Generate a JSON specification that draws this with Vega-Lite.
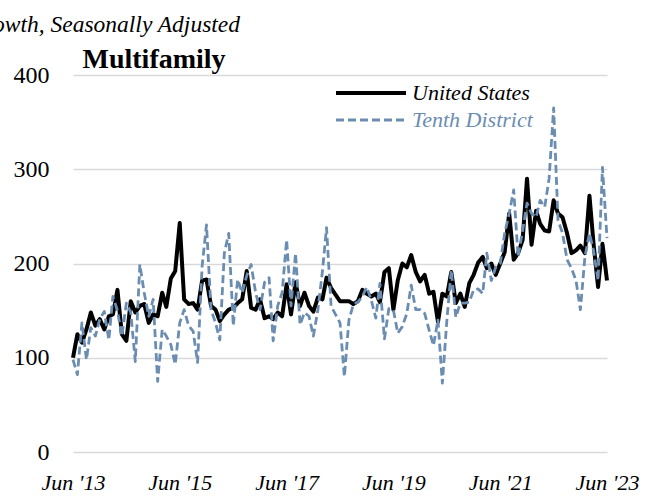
{
  "$schema": "https://vega.github.io/schema/vega-lite/v6.json",
  "width": 534,
  "height": 377,
  "autosize": {"type": "none"},
  "padding": {"left": 73, "top": 75, "right": 44, "bottom": 48},
  "background": "white",
  "title": {
    "text": "Growth, Seasonally Adjusted",
    "anchor": "start",
    "frame": "group",
    "align": "right",
    "dx": 167,
    "font": "Liberation Serif",
    "fontSize": 23.5,
    "fontStyle": "italic",
    "fontWeight": "normal",
    "color": "black",
    "offset": -10,
    "baseline": "alphabetic"
  },
  "data": {
    "values": [
      {"d":"2013-06","US":100,"TD":98},{"d":"2013-07","US":125,"TD":82},{"d":"2013-08","US":116,"TD":137},{"d":"2013-09","US":130,"TD":98},{"d":"2013-10","US":148,"TD":132},{"d":"2013-11","US":134,"TD":123},{"d":"2013-12","US":141,"TD":141},
      {"d":"2014-01","US":130,"TD":149},{"d":"2014-02","US":144,"TD":119},{"d":"2014-03","US":146,"TD":165},{"d":"2014-04","US":172,"TD":150},{"d":"2014-05","US":125,"TD":123},{"d":"2014-06","US":118,"TD":158},{"d":"2014-07","US":160,"TD":148},{"d":"2014-08","US":148,"TD":96},{"d":"2014-09","US":155,"TD":199},{"d":"2014-10","US":157,"TD":169},{"d":"2014-11","US":137,"TD":144},{"d":"2014-12","US":146,"TD":162},
      {"d":"2015-01","US":144,"TD":75},{"d":"2015-02","US":169,"TD":130},{"d":"2015-03","US":154,"TD":123},{"d":"2015-04","US":184,"TD":114},{"d":"2015-05","US":192,"TD":93},{"d":"2015-06","US":243,"TD":137},{"d":"2015-07","US":162,"TD":151},{"d":"2015-08","US":157,"TD":134},{"d":"2015-09","US":158,"TD":128},{"d":"2015-10","US":151,"TD":95},{"d":"2015-11","US":182,"TD":197},{"d":"2015-12","US":183,"TD":241},
      {"d":"2016-01","US":155,"TD":151},{"d":"2016-02","US":151,"TD":137},{"d":"2016-03","US":139,"TD":119},{"d":"2016-04","US":146,"TD":211},{"d":"2016-05","US":151,"TD":232},{"d":"2016-06","US":153,"TD":134},{"d":"2016-07","US":158,"TD":183},{"d":"2016-08","US":162,"TD":169},{"d":"2016-09","US":192,"TD":187},{"d":"2016-10","US":153,"TD":199},{"d":"2016-11","US":151,"TD":169},{"d":"2016-12","US":162,"TD":151},
      {"d":"2017-01","US":142,"TD":180},{"d":"2017-02","US":144,"TD":185},{"d":"2017-03","US":141,"TD":118},{"d":"2017-04","US":148,"TD":155},{"d":"2017-05","US":144,"TD":169},{"d":"2017-06","US":178,"TD":225},{"d":"2017-07","US":146,"TD":155},{"d":"2017-08","US":180,"TD":211},{"d":"2017-09","US":155,"TD":135},{"d":"2017-10","US":169,"TD":148},{"d":"2017-11","US":155,"TD":144},{"d":"2017-12","US":149,"TD":123},
      {"d":"2018-01","US":164,"TD":151},{"d":"2018-02","US":162,"TD":192},{"d":"2018-03","US":185,"TD":238},{"d":"2018-04","US":174,"TD":155},{"d":"2018-05","US":167,"TD":146},{"d":"2018-06","US":160,"TD":137},{"d":"2018-07","US":160,"TD":80},{"d":"2018-08","US":160,"TD":140},{"d":"2018-09","US":157,"TD":157},{"d":"2018-10","US":160,"TD":159},{"d":"2018-11","US":172,"TD":165},{"d":"2018-12","US":168,"TD":175},
      {"d":"2019-01","US":165,"TD":161},{"d":"2019-02","US":168,"TD":142},{"d":"2019-03","US":159,"TD":179},{"d":"2019-04","US":191,"TD":120},{"d":"2019-05","US":195,"TD":152},{"d":"2019-06","US":151,"TD":151},{"d":"2019-07","US":182,"TD":126},{"d":"2019-08","US":200,"TD":133},{"d":"2019-09","US":196,"TD":147},{"d":"2019-10","US":209,"TD":177},{"d":"2019-11","US":191,"TD":151},{"d":"2019-12","US":181,"TD":151},
      {"d":"2020-01","US":188,"TD":147},{"d":"2020-02","US":168,"TD":129},{"d":"2020-03","US":170,"TD":113},{"d":"2020-04","US":138,"TD":140},{"d":"2020-05","US":168,"TD":73},{"d":"2020-06","US":165,"TD":140},{"d":"2020-07","US":191,"TD":193},{"d":"2020-08","US":158,"TD":143},{"d":"2020-09","US":168,"TD":158},{"d":"2020-10","US":154,"TD":158},{"d":"2020-11","US":179,"TD":159},{"d":"2020-12","US":188,"TD":172},
      {"d":"2021-01","US":201,"TD":173},{"d":"2021-02","US":207,"TD":168},{"d":"2021-03","US":195,"TD":211},{"d":"2021-04","US":200,"TD":182},{"d":"2021-05","US":188,"TD":196},{"d":"2021-06","US":200,"TD":200},{"d":"2021-07","US":212,"TD":232},{"d":"2021-08","US":253,"TD":253},{"d":"2021-09","US":204,"TD":278},{"d":"2021-10","US":211,"TD":207},{"d":"2021-11","US":225,"TD":235},{"d":"2021-12","US":290,"TD":264},
      {"d":"2022-01","US":220,"TD":253},{"d":"2022-02","US":256,"TD":249},{"d":"2022-03","US":242,"TD":267},{"d":"2022-04","US":235,"TD":260},{"d":"2022-05","US":234,"TD":290},{"d":"2022-06","US":267,"TD":365},{"d":"2022-07","US":253,"TD":246},{"d":"2022-08","US":249,"TD":232},{"d":"2022-09","US":232,"TD":204},{"d":"2022-10","US":211,"TD":195},{"d":"2022-11","US":214,"TD":182},{"d":"2022-12","US":219,"TD":151},
      {"d":"2023-01","US":211,"TD":207},{"d":"2023-02","US":272,"TD":232},{"d":"2023-03","US":221,"TD":214},{"d":"2023-04","US":175,"TD":182},{"d":"2023-05","US":221,"TD":302},{"d":"2023-06","US":182,"TD":227}
    ],
    "format": {"parse": {"d": "date:'%Y-%m'"}}
  },
  "transform": [
    {"fold": ["US", "TD"], "as": ["series", "value"]}
  ],
  "encoding": {
    "x": {
      "field": "d",
      "type": "temporal",
      "scale": {"domain": [{"year": 2013, "month": 6, "date": 1}, {"year": 2023, "month": 6, "date": 1}]},
      "axis": {
        "title": null,
        "values": [
          {"year": 2013, "month": 6, "date": 1},
          {"year": 2015, "month": 6, "date": 1},
          {"year": 2017, "month": 6, "date": 1},
          {"year": 2019, "month": 6, "date": 1},
          {"year": 2021, "month": 6, "date": 1},
          {"year": 2023, "month": 6, "date": 1}
        ],
        "format": "%b '%y",
        "grid": false,
        "ticks": false,
        "domain": false,
        "labelFlush": false,
        "labelOverlap": false,
        "labelFont": "Liberation Serif",
        "labelFontSize": 22,
        "labelFontStyle": "italic",
        "labelColor": "black",
        "labelPadding": 20
      }
    },
    "y": {
      "field": "value",
      "type": "quantitative",
      "scale": {"domain": [0, 400]},
      "axis": {
        "title": "Multifamily",
        "titleAngle": 0,
        "titleAlign": "left",
        "titleBaseline": "alphabetic",
        "titleX": 9,
        "titleY": -8,
        "titleFont": "Liberation Serif",
        "titleFontSize": 28,
        "titleFontWeight": "bold",
        "titleColor": "black",
        "values": [0, 100, 200, 300, 400],
        "grid": true,
        "gridColor": "#d9d9d9",
        "gridWidth": 1.5,
        "ticks": false,
        "domain": false,
        "labelFont": "Liberation Serif",
        "labelFontSize": 24,
        "labelColor": "black",
        "labelPadding": 24
      }
    },
    "color": {
      "field": "series",
      "type": "nominal",
      "scale": {"domain": ["US", "TD"], "range": ["#000000", "#6b8db1"]},
      "legend": {
        "title": null,
        "orient": "none",
        "legendX": 287,
        "legendY": 7,
        "symbolType": "M-5,0H5",
        "symbolSize": 196,
        "labelFont": "Liberation Serif",
        "labelFontSize": 22,
        "labelFontStyle": "italic",
        "labelOffset": 30,
        "rowPadding": 5,
        "labelExpr": "datum.label === 'US' ? 'United States' : 'Tenth District'",
        "encode": {
          "labels": {"update": {"fill": {"signal": "datum.value === 'TD' ? '#6b8db1' : '#000000'"}}}
        }
      }
    },
    "strokeDash": {
      "field": "series",
      "type": "nominal",
      "scale": {"domain": ["US", "TD"], "range": [[1, 0], [8, 4]]},
      "legend": {
        "title": null,
        "orient": "none",
        "legendX": 287,
        "legendY": 7,
        "symbolType": "M-5,0H5",
        "symbolSize": 196,
        "labelFont": "Liberation Serif",
        "labelFontSize": 22,
        "labelFontStyle": "italic",
        "labelOffset": 30,
        "rowPadding": 5,
        "labelExpr": "datum.label === 'US' ? 'United States' : 'Tenth District'",
        "encode": {
          "labels": {"update": {"fill": {"signal": "datum.value === 'TD' ? '#6b8db1' : '#000000'"}}}
        }
      }
    },
    "strokeWidth": {
      "field": "series",
      "type": "nominal",
      "scale": {"domain": ["US", "TD"], "range": [4, 2.8]},
      "legend": {
        "title": null,
        "orient": "none",
        "legendX": 287,
        "legendY": 7,
        "symbolType": "M-5,0H5",
        "symbolSize": 196,
        "labelFont": "Liberation Serif",
        "labelFontSize": 22,
        "labelFontStyle": "italic",
        "labelOffset": 30,
        "rowPadding": 5,
        "labelExpr": "datum.label === 'US' ? 'United States' : 'Tenth District'",
        "encode": {
          "labels": {"update": {"fill": {"signal": "datum.value === 'TD' ? '#6b8db1' : '#000000'"}}}
        }
      }
    }
  },
  "layer": [
    {
      "transform": [{"filter": "datum.series === 'US'"}],
      "mark": {"type": "line", "strokeCap": "butt", "strokeJoin": "round"}
    },
    {
      "transform": [{"filter": "datum.series === 'TD'"}],
      "mark": {"type": "line", "strokeCap": "butt", "strokeJoin": "round"}
    }
  ],
  "config": {"view": {"stroke": null}}
}
